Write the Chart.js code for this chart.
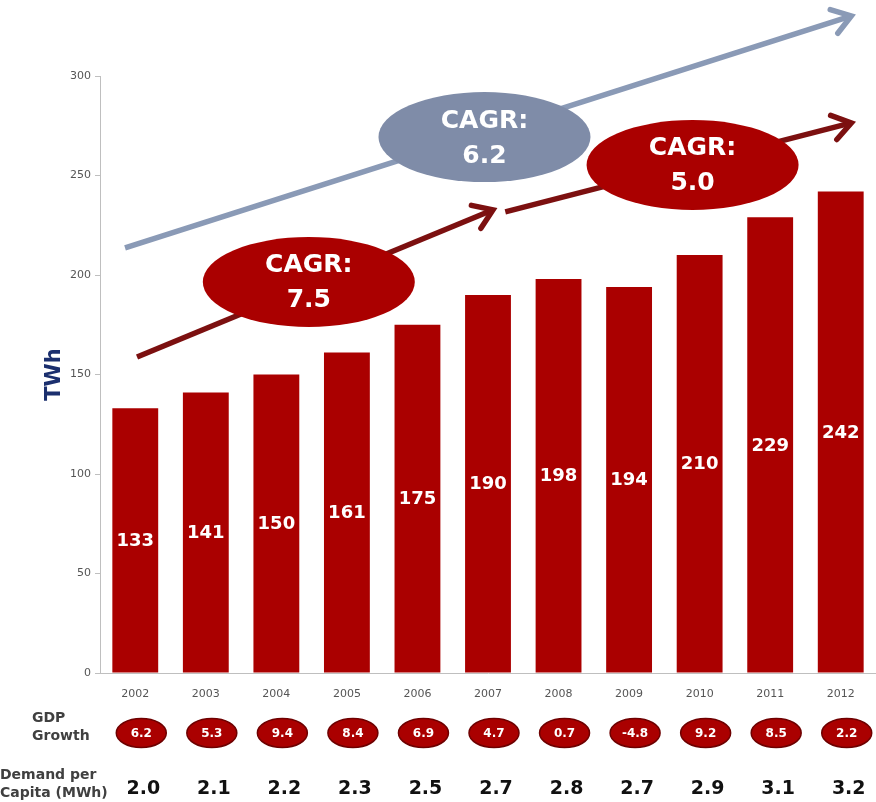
<!DOCTYPE html>
<html>
<head>
<meta charset="utf-8">
<script src="https://cdn.jsdelivr.net/npm/chart.js@4/dist/chart.umd.min.js"></script>
<style>
  html, body { margin: 0; padding: 0; background: #ffffff; }
  #wrap { width: 876px; height: 802px; }
</style>
</head>
<body>
<div id="wrap"><canvas id="chart-demand" width="876" height="802"></canvas></div>
<script>
/* electricity demand 2002-2012 */

var years     = ['2002', '2003', '2004', '2005', '2006', '2007', '2008', '2009', '2010', '2011', '2012'];
var demandTWh = [133, 141, 150, 161, 175, 190, 198, 194, 210, 229, 242];
var gdpGrowth = ['6.2', '5.3', '9.4', '8.4', '6.9', '4.7', '0.7', '-4.8', '9.2', '8.5', '2.2'];
var perCapita = ['2.0', '2.1', '2.2', '2.3', '2.5', '2.7', '2.8', '2.7', '2.9', '3.1', '3.2'];
var yTicks    = [0, 50, 100, 150, 200, 250, 300];
var cagrValues = ['7.5', '6.2', '5.0'];

var RED    = '#aa0000';
var DKRED  = '#7c1010';
var SLATE  = '#8a9ab6';
var SLATE2 = '#7f8ca8';
var NAVY   = '#1b2f6e';
var FONT   = 'DejaVu Sans';

/* trend arrows & CAGR bubbles, anchored in (category index, TWh) */
var arrows = [
  { from: [-0.145, 213.6], to: [10.15, 330.2], color: SLATE },
  { from: [0.025, 158.8],  to: [5.07, 232.7],  color: DKRED },
  { from: [5.245, 231.7],  to: [10.15, 276.4], color: DKRED }
];
var bubbles = [
  { at: [2.46, 196.5], text: cagrValues[0], color: RED },
  { at: [4.95, 269.3], text: cagrValues[1], color: SLATE2 },
  { at: [7.90, 255.3], text: cagrValues[2], color: RED }
];

function drawArrow(ctx, x1, y1, x2, y2, color) {
  var ang = Math.atan2(y2 - y1, x2 - x1);
  var head = 22;
  ctx.save();
  ctx.strokeStyle = color;
  ctx.lineWidth = 5.5;
  ctx.lineCap = 'butt';
  ctx.beginPath();
  ctx.moveTo(x1, y1);
  ctx.lineTo(x2 - 3 * Math.cos(ang), y2 - 3 * Math.sin(ang));
  ctx.stroke();
  ctx.lineCap = 'round';
  ctx.lineJoin = 'miter';
  ctx.beginPath();
  ctx.moveTo(x2 - head * Math.cos(ang - 0.6), y2 - head * Math.sin(ang - 0.6));
  ctx.lineTo(x2, y2);
  ctx.lineTo(x2 - head * Math.cos(ang + 0.6), y2 - head * Math.sin(ang + 0.6));
  ctx.stroke();
  ctx.restore();
}

var overlayPlugin = {
  id: 'overlay',
  afterDatasetsDraw: function(chart) {
    var ctx = chart.ctx;
    var xs = chart.scales.x, ys = chart.scales.y;
    var meta = chart.getDatasetMeta(0);

    /* values inside bars */
    ctx.save();
    ctx.fillStyle = '#ffffff';
    ctx.font = 'bold 18px "' + FONT + '"';
    ctx.textAlign = 'center';
    ctx.textBaseline = 'middle';
    meta.data.forEach(function(bar, i) {
      ctx.fillText(String(demandTWh[i]), bar.x, (bar.y + bar.base) / 2 + 1);
    });
    ctx.restore();

    /* arrows */
    arrows.forEach(function(a) {
      drawArrow(ctx,
        xs.getPixelForValue(a.from[0]), ys.getPixelForValue(a.from[1]),
        xs.getPixelForValue(a.to[0]), ys.getPixelForValue(a.to[1]), a.color);
    });

    /* CAGR bubbles */
    bubbles.forEach(function(b) {
      var cx = xs.getPixelForValue(b.at[0]);
      var cy = ys.getPixelForValue(b.at[1]);
      ctx.save();
      ctx.fillStyle = b.color;
      ctx.beginPath();
      ctx.ellipse(cx, cy, 106, 45, 0, 0, Math.PI * 2);
      ctx.fill();
      ctx.fillStyle = '#ffffff';
      ctx.font = 'bold 25px "' + FONT + '"';
      ctx.textAlign = 'center';
      ctx.textBaseline = 'middle';
      ctx.fillText('CAGR:', cx, cy - 16);
      ctx.fillText(b.text, cx, cy + 19);
      ctx.restore();
    });

    /* GDP growth row and demand per capita row */
    ctx.save();
    ctx.fillStyle = '#404040';
    ctx.font = 'bold 14px "' + FONT + '"';
    ctx.textAlign = 'left';
    ctx.textBaseline = 'middle';
    ctx.fillText('GDP', 32, 718);
    ctx.fillText('Growth', 32, 736);
    ctx.fillText('Demand per', 0, 775);
    ctx.fillText('Capita (MWh)', 0, 793);
    ctx.restore();

    meta.data.forEach(function(bar, i) {
      var cx = bar.x + 6;
      ctx.save();
      ctx.fillStyle = RED;
      ctx.strokeStyle = '#6e0000';
      ctx.lineWidth = 1.5;
      ctx.beginPath();
      ctx.ellipse(cx, 733, 25, 14.5, 0, 0, Math.PI * 2);
      ctx.fill();
      ctx.stroke();
      ctx.fillStyle = '#ffffff';
      ctx.font = 'bold 12px "' + FONT + '"';
      ctx.textAlign = 'center';
      ctx.textBaseline = 'middle';
      ctx.fillText(gdpGrowth[i], cx, 734);

      ctx.fillStyle = '#111111';
      ctx.font = 'bold 19px "' + FONT + '"';
      ctx.fillText(perCapita[i], bar.x + 8, 789);
      ctx.restore();
    });
  }
};

new Chart(document.getElementById('chart-demand'), {
  type: 'bar',
  data: {
    labels: years,
    datasets: [{
      label: 'TWh',
      data: demandTWh,
      backgroundColor: RED,
      borderWidth: 0,
      barPercentage: 0.65,
      categoryPercentage: 1.0
    }]
  },
  options: {
    responsive: false,
    animation: false,
    layout: { padding: { left: 0, right: 0, top: 76, bottom: 100 } },
    plugins: {
      legend: { display: false },
      tooltip: { enabled: false }
    },
    scales: {
      x: {
        grid: { display: false },
        border: { display: true, color: '#bfbfbf', width: 1 },
        ticks: { font: { family: FONT, size: 11 }, color: '#555555', padding: 7 },
        afterFit: function(scale) { scale.height = 29; }
      },
      y: {
        min: 0,
        max: 300,
        afterBuildTicks: function(scale) {
          scale.ticks = yTicks.map(function(v) { return { value: v }; });
        },
        grid: { drawOnChartArea: false, tickLength: 5, color: '#bfbfbf' },
        border: { display: true, color: '#bfbfbf', width: 1 },
        ticks: { font: { family: FONT, size: 11 }, color: '#555555', padding: 4 },
        title: {
          display: true,
          text: 'TWh',
          color: NAVY,
          font: { family: FONT, size: 21, weight: 'bold' },
          padding: { top: 42 }
        },
        afterFit: function(scale) { scale.width = 100; }
      }
    }
  },
  plugins: [overlayPlugin]
});
</script>
</body>
</html>
